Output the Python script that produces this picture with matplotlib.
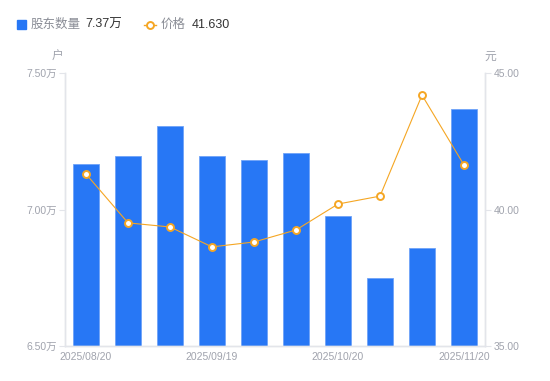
import matplotlib
matplotlib.use("Agg")
import matplotlib.pyplot as plt
from matplotlib.lines import Line2D

plt.rcParams['font.family'] = ['Liberation Sans', 'Noto Sans CJK SC', 'DejaVu Sans']

dates = ["2025/08/20", "2025/08/29", "2025/09/10", "2025/09/19", "2025/09/30",
         "2025/10/10", "2025/10/20", "2025/10/31", "2025/11/10", "2025/11/20"]
holders = [7.167, 7.196, 7.306, 7.196, 7.181, 7.207, 6.976, 6.749, 6.859, 7.368]  # 万户
prices = [41.30, 39.51, 39.36, 38.63, 38.81, 39.25, 40.20, 40.49, 44.19, 41.63]
left_ticks = [6.50, 7.00, 7.50]
right_ticks = [35.00, 40.00, 45.00]
shown_labels = ["2025/08/20", "2025/09/19", "2025/10/20", "2025/11/20"]

W, H = 550, 381
fig = plt.figure(figsize=(W / 100, H / 100), dpi=100)
ax = fig.add_axes([65 / W, (H - 346) / H, 420 / W, 273 / H])
ax2 = ax.twinx()

blue = "#2777F5"
orange = "#F5A623"
grey_text = "#A0A3AD"
axis_col = "#E3E5EA"

x = list(range(len(dates)))
ax.bar(x, holders, width=0.6, bottom=0, color=blue, edgecolor="#6FA3F8", linewidth=0.6, zorder=2)
ax.set_ylim(left_ticks[0], left_ticks[-1])
ax.set_xlim(-0.5, len(dates) - 0.5)
ax.set_yticks(left_ticks)
ax.set_yticklabels([f"{v:.2f}万" for v in left_ticks])

ax2.plot(x, prices, color=orange, linewidth=0.8, marker="o", markersize=5,
         markerfacecolor="white", markeredgecolor=orange, markeredgewidth=1.4, zorder=3)
ax2.set_ylim(right_ticks[0], right_ticks[-1])
ax2.set_yticks(right_ticks)
ax2.set_yticklabels([f"{v:.2f}" for v in right_ticks])

ax.set_xticks([dates.index(d) for d in shown_labels])
ax.set_xticklabels(shown_labels)

for a in (ax, ax2):
    for s in a.spines.values():
        s.set_color(axis_col)
        s.set_linewidth(1)
    a.spines['top'].set_visible(False)
    a.tick_params(colors=grey_text, labelsize=7.5, length=4, width=0.8, color=axis_col, pad=2)
ax.tick_params(axis='x', length=0, pad=4)
ax2.set_zorder(ax.get_zorder() + 1)
ax2.patch.set_visible(False)

fig.text(58 / W, 1 - 57 / H, "户", color=grey_text, fontsize=8.5, ha="center", va="center")
fig.text(490 / W, 1 - 57 / H, "元", color=grey_text, fontsize=8.5, ha="center", va="center")

# legend
fig.patches.append(plt.Rectangle((17 / W, 1 - 29 / H), 9 / W, 9 / H, transform=fig.transFigure,
                                 color=blue, figure=fig))
fig.text(31 / W, 1 - 24.5 / H, "股东数量", color="#8A8D96", fontsize=9, va="center")
fig.text(85 / W, 1 - 24.5 / H, "7.37万", color="#333333", fontsize=9, va="center")
fig.add_artist(Line2D([144 / W, 156 / W], [1 - 24.5 / H, 1 - 24.5 / H], transform=fig.transFigure,
                      color=orange, linewidth=1))
fig.add_artist(Line2D([150 / W], [1 - 24.5 / H], transform=fig.transFigure, color=orange,
                      marker="o", markersize=5, markerfacecolor="white", markeredgewidth=1.4, linestyle="none"))
fig.text(161 / W, 1 - 24.5 / H, "价格", color="#8A8D96", fontsize=9, va="center")
fig.text(192 / W, 1 - 24.5 / H, "41.630", color="#333333", fontsize=9, va="center")

fig.savefig("out.png", dpi=100, facecolor="white")
